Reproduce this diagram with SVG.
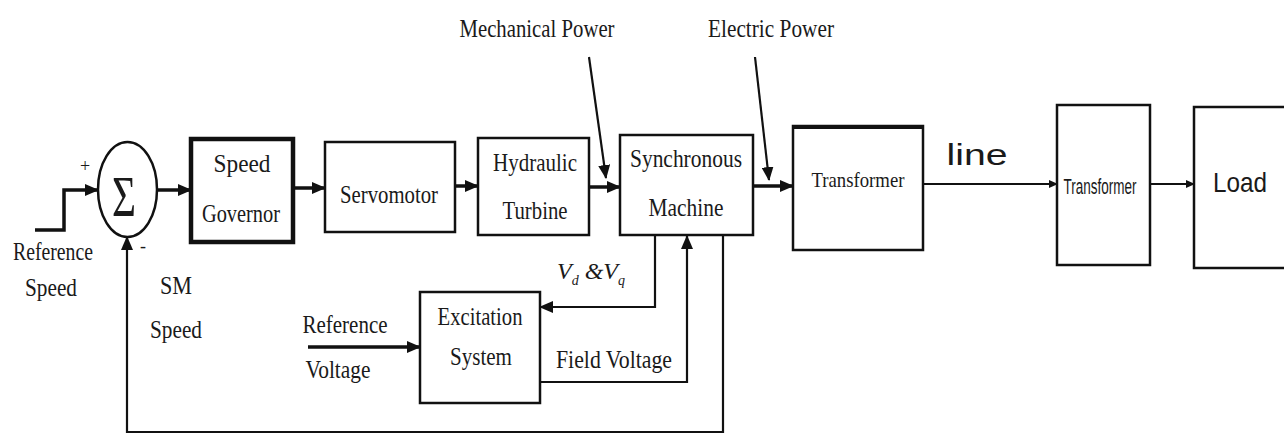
<svg xmlns="http://www.w3.org/2000/svg" width="1284" height="435" viewBox="0 0 1284 435">
<defs>
<marker id="ah" markerUnits="userSpaceOnUse" markerWidth="14" markerHeight="12" refX="13" refY="6" orient="auto">
<path d="M0,0 L14,6 L0,12 z" fill="#111"/>
</marker>
<marker id="ahs" markerUnits="userSpaceOnUse" markerWidth="9" markerHeight="8" refX="8" refY="4" orient="auto">
<path d="M0,0 L9,4 L0,8 z" fill="#111"/>
</marker>
<style>
.box{fill:#fff;stroke:#111;stroke-width:2.5}
.thick{fill:#fff;stroke:#111;stroke-width:4.5}
.t{font-family:"Liberation Serif","Times New Roman",serif;font-size:26px;fill:#1a1a1a;text-anchor:middle}
.s{font-family:"Liberation Sans",Arial,sans-serif;fill:#1a1a1a;text-anchor:middle}
.w{fill:none;stroke:#111;stroke-width:3.5}
.f{fill:none;stroke:#111;stroke-width:2.2}
</style>
</defs>
<rect width="1284" height="435" fill="#fff"/>

<g id="connectors">
<polyline class="w" points="35,230 64,230 64,190 98,190" marker-end="url(#ah)"/>
<line class="w" x1="157" y1="190" x2="191" y2="190" marker-end="url(#ah)"/>
<line class="w" x1="293" y1="188" x2="325" y2="188" marker-end="url(#ah)"/>
<line class="w" x1="455" y1="186" x2="478" y2="186" marker-end="url(#ah)"/>
<line class="w" x1="589" y1="187" x2="620" y2="187" marker-end="url(#ah)"/>
<line class="f" x1="589" y1="57" x2="606" y2="178" marker-end="url(#ah)"/>
<line class="w" x1="753" y1="186" x2="793" y2="186" marker-end="url(#ah)"/>
<line class="f" x1="755" y1="57" x2="769" y2="180" marker-end="url(#ah)"/>
<line class="f" x1="923" y1="184" x2="1057" y2="184" marker-end="url(#ahs)"/>
<line class="f" x1="1150" y1="184" x2="1194" y2="184" marker-end="url(#ahs)"/>
<polyline class="f" points="655,235 655,307 540,307" marker-end="url(#ah)"/>
<polyline class="f" points="540,382 687,382 687,236" marker-end="url(#ah)"/>
<line class="w" x1="308" y1="347" x2="420" y2="347" marker-end="url(#ah)"/>
<polyline class="f" points="723,235 723,432 127,432 127,237" marker-end="url(#ah)"/>
</g>

<g id="sum">
<ellipse cx="127.5" cy="189.5" rx="29.5" ry="47.5" fill="#fff" stroke="#111" stroke-width="2.5"/>
<text class="t" x="124" y="216" style="font-size:56px" textLength="24" lengthAdjust="spacingAndGlyphs">Σ</text>
<text class="t" x="85" y="172" style="font-size:18px">+</text>
<text class="t" x="143" y="252" style="font-size:18px">-</text>
</g>

<g id="ref-speed">
<text class="t" x="53" y="260" textLength="80" lengthAdjust="spacingAndGlyphs">Reference</text>
<text class="t" x="51" y="296" textLength="52" lengthAdjust="spacingAndGlyphs">Speed</text>
</g>

<g id="sm-speed">
<text class="t" x="176" y="294" textLength="32" lengthAdjust="spacingAndGlyphs">SM</text>
<text class="t" x="176" y="338" textLength="52" lengthAdjust="spacingAndGlyphs">Speed</text>
</g>

<g id="governor">
<rect class="thick" x="191" y="139" width="102" height="103"/>
<text class="t" x="242" y="172" textLength="57" lengthAdjust="spacingAndGlyphs">Speed</text>
<text class="t" x="241" y="222" textLength="78" lengthAdjust="spacingAndGlyphs">Governor</text>
</g>

<g id="servomotor">
<rect class="box" x="325" y="142" width="130" height="90"/>
<text class="t" x="389" y="203" textLength="98" lengthAdjust="spacingAndGlyphs">Servomotor</text>
</g>

<g id="turbine">
<rect class="box" x="478" y="138" width="111" height="97"/>
<text class="t" x="535" y="171" textLength="84" lengthAdjust="spacingAndGlyphs">Hydraulic</text>
<text class="t" x="535" y="219" textLength="65" lengthAdjust="spacingAndGlyphs">Turbine</text>
</g>

<g id="sync-machine">
<rect class="box" x="620" y="135" width="133" height="100"/>
<text class="t" x="686" y="167" textLength="112" lengthAdjust="spacingAndGlyphs">Synchronous</text>
<text class="t" x="686" y="216" textLength="75" lengthAdjust="spacingAndGlyphs">Machine</text>
</g>

<g id="mech-power">
<text class="t" x="537" y="37" textLength="155" lengthAdjust="spacingAndGlyphs">Mechanical Power</text>
</g>

<g id="elec-power">
<text class="t" x="771" y="37" textLength="126" lengthAdjust="spacingAndGlyphs">Electric Power</text>
</g>

<g id="transformer1">
<rect class="box" x="793" y="126" width="130" height="124"/>
<line x1="793" y1="127" x2="923" y2="127" stroke="#111" stroke-width="4"/>
<text class="t" x="858" y="187" style="font-size:21px" textLength="93" lengthAdjust="spacingAndGlyphs">Transformer</text>
</g>

<g id="line-label">
<text class="s" x="977" y="165" style="font-size:30px" textLength="61" lengthAdjust="spacingAndGlyphs">line</text>
</g>

<g id="transformer2">
<rect class="box" x="1057" y="105" width="93" height="160"/>
<text class="s" x="1100" y="194" style="font-size:22px" textLength="73" lengthAdjust="spacingAndGlyphs">Transformer</text>
</g>

<g id="load">
<rect class="box" x="1194" y="107" width="100" height="161"/>
<text class="s" x="1240" y="192" style="font-size:28px" textLength="54" lengthAdjust="spacingAndGlyphs">Load</text>
</g>

<g id="excitation">
<rect class="box" x="420" y="292" width="120" height="111"/>
<text class="t" x="480" y="325" textLength="85" lengthAdjust="spacingAndGlyphs">Excitation</text>
<text class="t" x="481" y="365" textLength="62" lengthAdjust="spacingAndGlyphs">System</text>
</g>

<g id="vd-vq">
<text x="557" y="279" font-family="Liberation Serif, serif" font-style="italic" font-size="24" fill="#1a1a1a">V<tspan font-size="14" dy="6">d</tspan><tspan dy="-6" font-size="24"> &amp;V</tspan><tspan font-size="14" dy="6">q</tspan></text>
</g>

<g id="field-voltage">
<text class="t" x="614" y="368" textLength="116" lengthAdjust="spacingAndGlyphs">Field Voltage</text>
</g>

<g id="ref-voltage">
<text class="t" x="345" y="333" textLength="85" lengthAdjust="spacingAndGlyphs">Reference</text>
<text class="t" x="338" y="378" textLength="65" lengthAdjust="spacingAndGlyphs">Voltage</text>
</g>
</svg>
